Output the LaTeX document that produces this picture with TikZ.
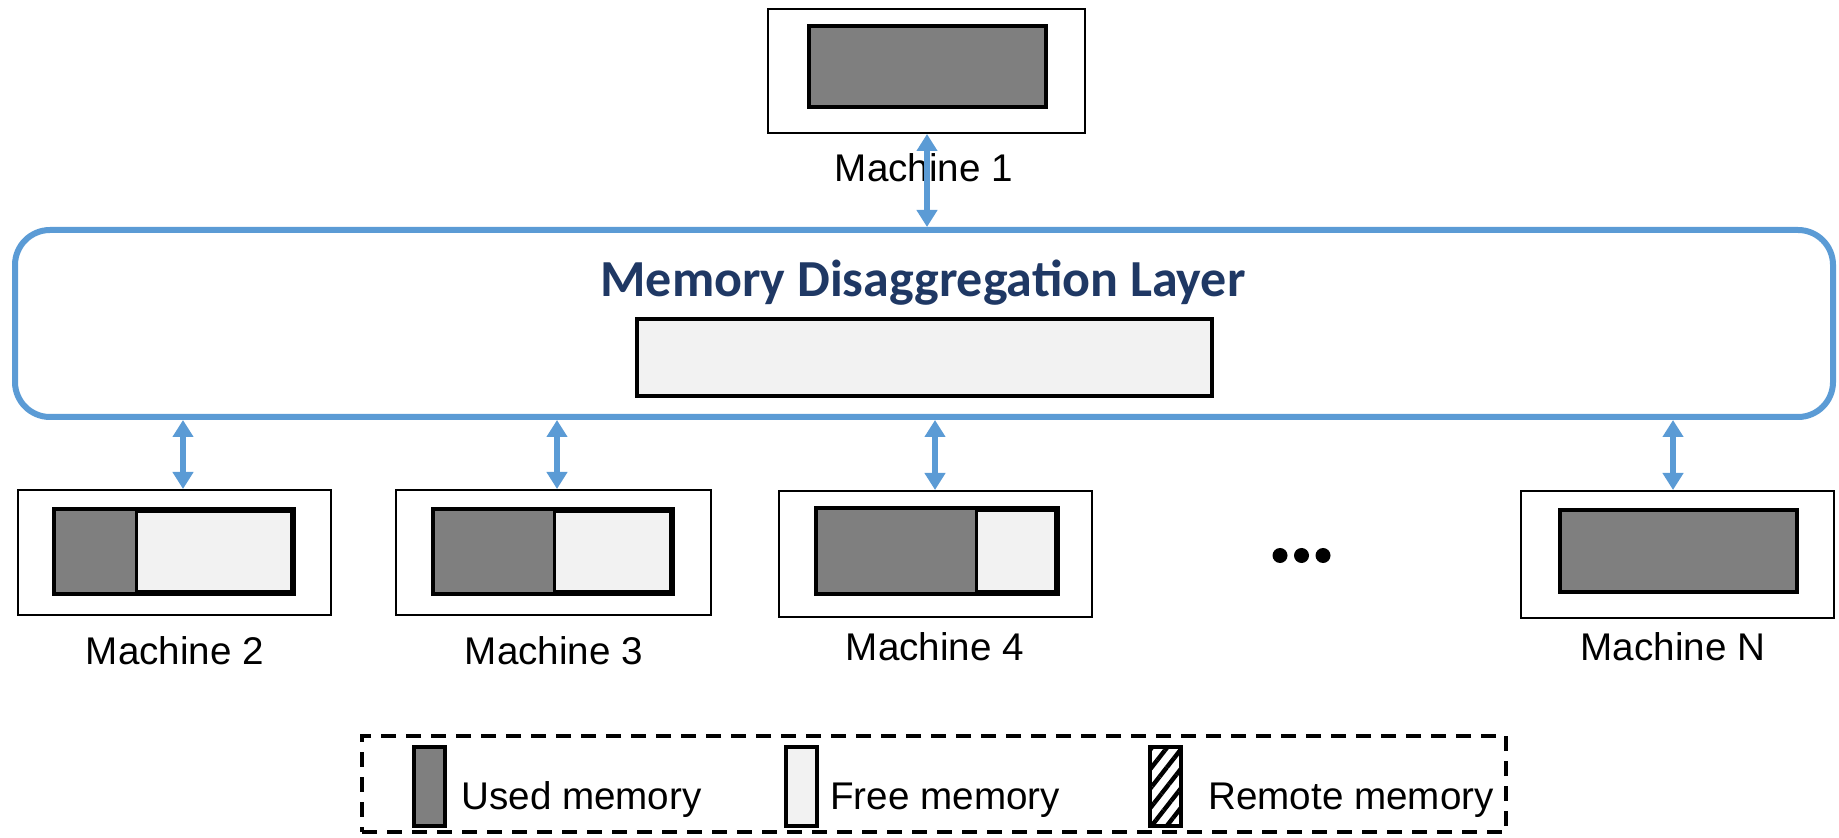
\documentclass[tikz,border=0pt]{standalone}
\usepackage{fontspec}
\setmainfont{Liberation Sans}
\newfontfamily\titlefont{Carlito}
\usetikzlibrary{arrows.meta,patterns.meta}
\definecolor{layerblue}{HTML}{5B9BD5}
\definecolor{titleblue}{HTML}{1F3864}
\definecolor{usedgray}{HTML}{7F7F7F}
\definecolor{freegray}{HTML}{F2F2F2}
\begin{document}
\begin{tikzpicture}[x=0.5pt,y=-0.5pt,
  machine/.style={draw=black, line width=1pt, rectangle, inner sep=0pt, fill=white},
  membox/.style={draw=black, line width=2pt, rectangle, inner sep=0pt},
  divider/.style={draw=black, line width=1.5pt},
  memborder/.style={draw=black, line width=2pt},
  lbl/.style={font=\fontsize{19.3pt}{23pt}\selectfont, inner sep=0pt, anchor=base},
  link/.style={draw=layerblue, line width=3pt, {Triangle[length=8.5pt,width=10pt]}-{Triangle[length=8.5pt,width=10pt]}},
  layerbox/.style={draw=layerblue, line width=3pt, rounded corners=17.5pt, rectangle, inner sep=0pt},
  swatch/.style={draw=black, line width=2.2pt, rectangle, inner sep=0pt, minimum width=15.5pt, minimum height=39.5pt},
  ellipsisdot/.style={circle, fill=black, inner sep=0pt, minimum size=7.5pt},
]
\useasboundingbox (0,0) rectangle (1839,838);

% Machine 1
\node[machine, minimum width=158.5pt, minimum height=62pt] (m1) at (926.5,71) {};
\node[membox, fill=usedgray, minimum width=118.5pt, minimum height=40.5pt] (m1mem) at (927.5,66.5) {};

% Layer
\node[layerbox, minimum width=909pt, minimum height=93.5pt] (layer) at (924,323.5) {};
\node[anchor=base, inner sep=0pt, font=\titlefont\bfseries\fontsize{26pt}{30pt}\selectfont, text=titleblue] (title) at (923,297) {Memory Disaggregation Layer};
\node[membox, fill=freegray, minimum width=287.5pt, minimum height=38.5pt] (pool) at (924.5,357.5) {};

% Machine 2
\node[machine, minimum width=156.5pt, minimum height=62.5pt] (m2) at (174.5,552.5) {};
\node[membox, fill=freegray, minimum width=118pt, minimum height=40.5pt] (m2mem) at (174,551.5) {};
\coordinate (d2) at (136,0);
\fill[usedgray] (m2mem.north west) rectangle (m2mem.south -| d2);
\draw[divider] (m2mem.north -| d2) -- (m2mem.south -| d2);
\draw[memborder] (m2mem.north west) rectangle (m2mem.south east);

% Machine 3
\node[machine, minimum width=157.5pt, minimum height=62.5pt] (m3) at (553.5,552.5) {};
\node[membox, fill=freegray, minimum width=118pt, minimum height=40.5pt] (m3mem) at (553,551.5) {};
\coordinate (d3) at (554,0);
\fill[usedgray] (m3mem.north west) rectangle (m3mem.south -| d3);
\draw[divider] (m3mem.north -| d3) -- (m3mem.south -| d3);
\draw[memborder] (m3mem.north west) rectangle (m3mem.south east);

% Machine 4
\node[machine, minimum width=156.5pt, minimum height=63pt] (m4) at (935.5,554) {};
\node[membox, fill=freegray, minimum width=119pt, minimum height=41pt] (m4mem) at (937,551) {};
\coordinate (d4) at (976,0);
\fill[usedgray] (m4mem.north west) rectangle (m4mem.south -| d4);
\draw[divider] (m4mem.north -| d4) -- (m4mem.south -| d4);
\draw[memborder] (m4mem.north west) rectangle (m4mem.south east);

% Machine N
\node[machine, minimum width=156.5pt, minimum height=63.5pt] (mN) at (1677.5,554.5) {};
\node[membox, fill=usedgray, minimum width=118.5pt, minimum height=41pt] (mNmem) at (1678.5,551) {};

% Labels
\node[lbl] (m1lbl) at (924,182) {Machine 1};
\node[lbl] (m2lbl) at (175,664) {Machine 2};
\node[lbl] (m3lbl) at (554,664) {Machine 3};
\node[lbl] (m4lbl) at (935,660) {Machine 4};
\node[lbl] (mNlbl) at (1673,660) {Machine N};

% Ellipsis
\node[ellipsisdot] (e1) at (1280,555.5) {};
\node[ellipsisdot] (e2) at (1301.5,555.5) {};
\node[ellipsisdot] (e3) at (1323,555.5) {};

% Connectors
\coordinate (a1) at (927,0);
\coordinate (a2) at (183,0);
\coordinate (a3) at (557,0);
\coordinate (a4) at (935,0);
\coordinate (aN) at (1673,0);
\draw[link] (m1.south -| a1) -- (layer.north -| a1);
\draw[link] (layer.south -| a2) -- (m2.north -| a2);
\draw[link] (layer.south -| a3) -- (m3.north -| a3);
\draw[link] (layer.south -| a4) -- (m4.north -| a4);
\draw[link] (layer.south -| aN) -- (mN.north -| aN);

% Legend
\node[draw=black, line width=1.7pt, dash pattern=on 7.5pt off 5pt, rectangle, inner sep=0pt, minimum width=572pt, minimum height=48pt] (legend) at (934,784) {};
\node[swatch, fill=usedgray] (usedsw) at (429.5,786.5) {};
\node[lbl, anchor=base west] (usedlbl) at (461,809) {Used memory};
\node[swatch, fill=freegray] (freesw) at (801.5,786.5) {};
\node[lbl, anchor=base west] (freelbl) at (830,809) {Free memory};
\node[swatch, pattern={Lines[angle=52,distance=6pt,line width=2.2pt]}] (remsw) at (1165.5,786.5) {};
\node[lbl, anchor=base west] (remlbl) at (1208,809) {Remote memory};
\end{tikzpicture}
\end{document}
